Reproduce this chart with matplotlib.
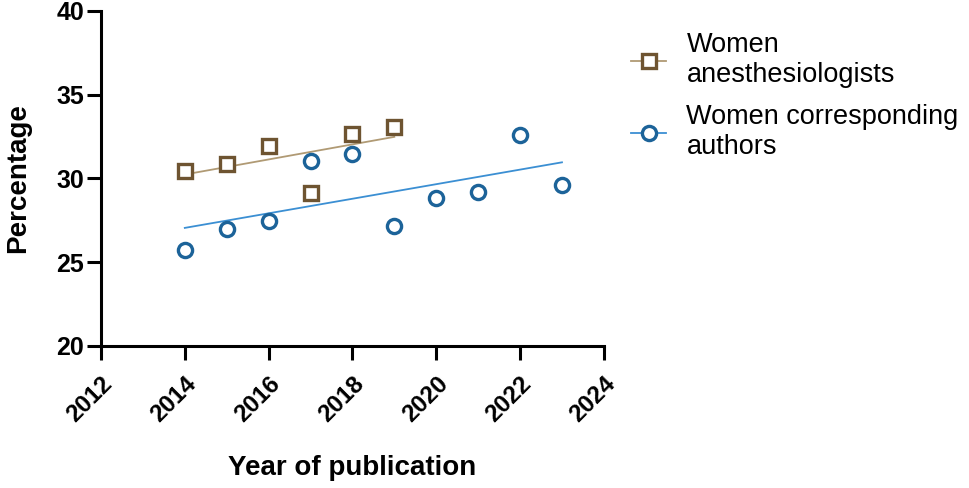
import numpy as np
import matplotlib
matplotlib.use("Agg")
import matplotlib.pyplot as plt

plt.rcParams['font.family'] = ['Liberation Sans', 'DejaVu Sans']

# data
years_anest = [2014, 2015, 2016, 2017, 2018, 2019]
pct_anest = [30.44, 30.86, 31.95, 29.15, 32.65, 33.07]

years_auth = [2014, 2015, 2016, 2017, 2018, 2019, 2020, 2021, 2022, 2023]
pct_auth = [25.73, 26.96, 27.48, 31.06, 31.44, 27.14, 28.85, 29.17, 32.57, 29.61]

x_ticks = [2012, 2014, 2016, 2018, 2020, 2022, 2024]
y_ticks = [20, 25, 30, 35, 40]

brown_mk = '#6E5431'
brown_ln = '#B09A74'
blue_mk = '#1C6399'
blue_ln = '#3B8FD3'

fig = plt.figure(figsize=(9.69, 4.88), dpi=100)
ax = fig.add_axes([0.1042, 0.291, 0.519, 0.687])

def draw(xs, ys, mk, mcol, lcol, label):
    xs = np.array(xs, dtype=float)
    ys = np.array(ys, dtype=float)
    k, b = np.polyfit(xs, ys, 1)
    xf = np.array([xs.min(), xs.max()])
    ax.plot(xf, k * xf + b, color=lcol, lw=1.3, zorder=2)
    ax.plot(xs, ys, linestyle='none', marker=mk, ms=10.2, mfc='white',
            mec=mcol, mew=2.4, zorder=3)
    # legend handle: line + marker
    ax.plot([], [], color=lcol, lw=1.3, marker=mk, ms=10.2, mfc='white',
            mec=mcol, mew=2.4, label=label)

draw(years_anest, pct_anest, 's', brown_mk, brown_ln, 'Women\nanesthesiologists')
draw(years_auth, pct_auth, 'o', blue_mk, blue_ln, 'Women corresponding\nauthors')

ax.set_xlim(2012, 2024)
ax.set_ylim(20, 40)
ax.set_xticks(x_ticks)
ax.set_yticks(y_ticks)
ax.set_xticklabels([str(t) for t in x_ticks], rotation=45, ha='right',
                   rotation_mode='anchor', fontsize=17.5, fontweight='bold')
ax.set_yticklabels([str(t) for t in y_ticks], fontsize=18, fontweight='bold')

for s in ['top', 'right']:
    ax.spines[s].set_visible(False)
for s in ['left', 'bottom']:
    ax.spines[s].set_linewidth(2.2)
ax.tick_params(axis='both', width=2.2, length=10, direction='out')
ax.tick_params(axis='y', pad=2)
ax.tick_params(axis='x', pad=9)
ax.set_xlabel('Year of publication', fontsize=20, fontweight='bold', labelpad=20)
ax.set_ylabel('Percentage', fontsize=20, fontweight='bold', labelpad=18)

leg = fig.legend(loc='upper left', bbox_to_anchor=(0.626, 0.984), frameon=False,
                 fontsize=19.5, handlelength=1.3, handletextpad=0.75,
                 labelspacing=0.6)

fig.savefig('out.png', dpi=100)
